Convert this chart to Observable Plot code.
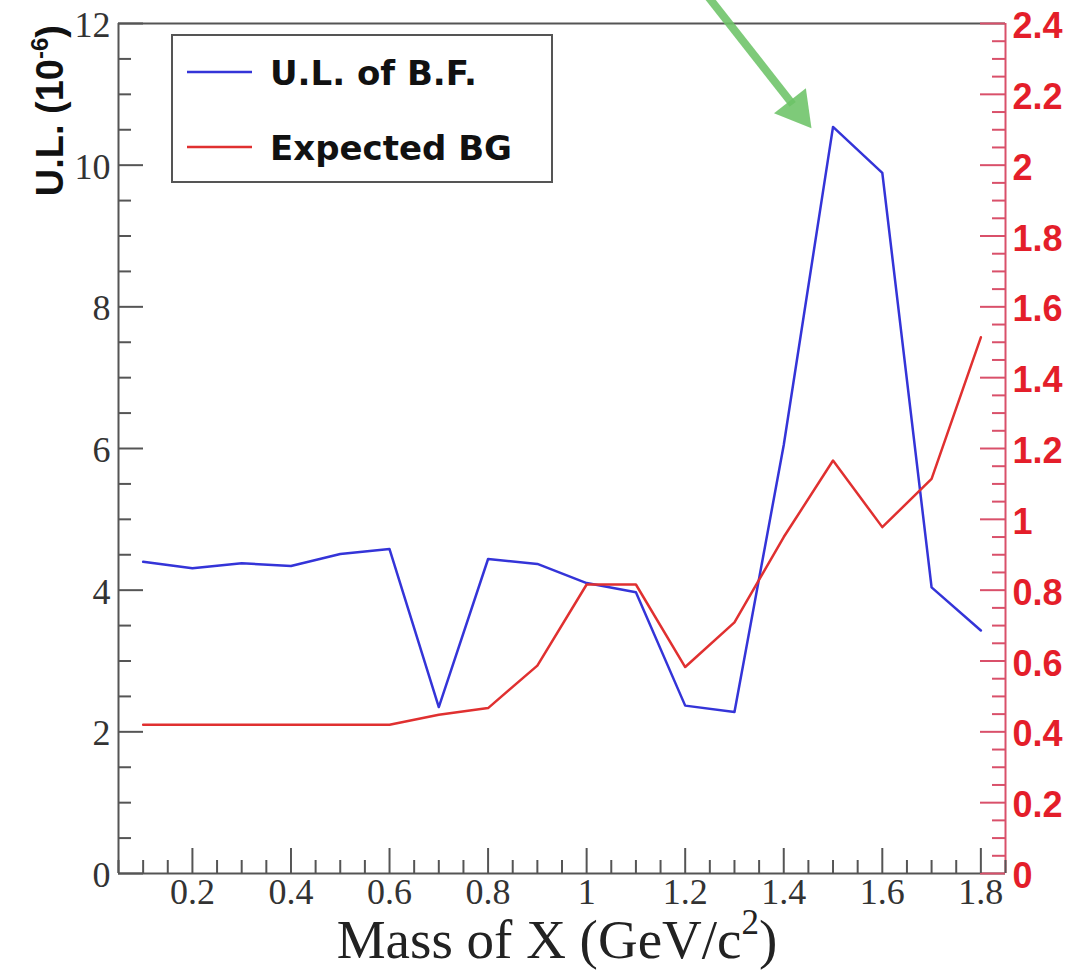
<!DOCTYPE html>
<html><head><meta charset="utf-8">
<script src="https://cdn.jsdelivr.net/npm/d3@7"></script>
<script src="https://cdn.jsdelivr.net/npm/@observablehq/plot@0.6"></script>
<style>html,body{margin:0;padding:0;background:#fff;} #chart{position:relative;width:1088px;height:976px;}</style>
</head><body><div id="chart"></div>
<script>
// ---- data ----
const mass = [0.1, 0.2, 0.3, 0.4, 0.5, 0.6, 0.7, 0.8, 0.9, 1.0, 1.1, 1.2, 1.3, 1.4, 1.5, 1.6, 1.7, 1.8];
const ulBF = [4.40, 4.31, 4.38, 4.34, 4.51, 4.58, 2.35, 4.44, 4.37, 4.10, 3.97, 2.37, 2.28, 6.05, 10.54, 9.89, 4.04, 3.43];
const expectedBG = [0.42, 0.42, 0.42, 0.42, 0.42, 0.42, 0.448, 0.467, 0.587, 0.816, 0.816, 0.583, 0.709, 0.95, 1.166, 0.978, 1.114, 1.514];
const leftTicks = [0, 2, 4, 6, 8, 10, 12];
const rightTicks = [0, 0.2, 0.4, 0.6, 0.8, 1.0, 1.2, 1.4, 1.6, 1.8, 2.0, 2.2, 2.4];
const xTicks = [0.2, 0.4, 0.6, 0.8, 1.0, 1.2, 1.4, 1.6, 1.8];
const seriesNames = ["U.L. of B.F.", "Expected BG"];
const xTitle = ["Mass of X (GeV/c", "2", ")"];
const yTitle = ["U.L. (10", "-6", ")"];
const arrowStart = {x: 1.243, y: 12.41};
const arrowTip = {x: 1.4566, y: 10.518};

// ---- layout / style ----
const W = 1088, H = 976, mL = 118, mR = 83, mT = 23, mB = 103;
const fw = W - mL - mR, fh = H - mT - mB;
const BG_SCALE = 12 / 2.4;
const gray = "#555", blue = "#3434d8", red = "#e03030", pink = "#d9506a", redText = "#e41e2a", green = "#6cc366";
const serif = "Liberation Serif, Times New Roman, serif";
const sans = "Liberation Sans, Arial, sans-serif";

const rows = mass.map((m, i) => ({m, ul: ulBF[i], bg: expectedBG[i]}));
const isMult = (v, s) => Math.abs(v / s - Math.round(v / s)) < 1e-6;
const leftMinor = d3.range(0, 12.001, 0.5).filter(v => !isMult(v, 2));
const rightMinor = d3.range(0, 2.4001, 0.05).map(v => +v.toFixed(2)).filter(v => !isMult(v, 0.2));
const xMinor = d3.range(0.05, 1.8501, 0.05).map(v => +v.toFixed(2)).filter(v => !isMult(v, 0.2));
const fmt = v => String(+v.toFixed(1));

const lerp = (a, b, t) => ({x: a.x + (b.x - a.x) * t, y: a.y + (b.y - a.y) * t});
const shaftEnd = lerp(arrowStart, arrowTip, 0.82);
const headCenter = lerp(arrowStart, arrowTip, 0.862);

const plot = Plot.plot({
  width: W, height: H,
  marginLeft: mL, marginRight: mR, marginTop: mT, marginBottom: mB,
  x: {domain: [0.05, 1.85], axis: null},
  y: {domain: [0, 12], axis: null},
  style: {background: "white", overflow: "visible"},
  marks: [
    Plot.ruleY([0, 12], {stroke: gray, strokeWidth: 2}),
    Plot.ruleX([0.05], {stroke: gray, strokeWidth: 2}),
    Plot.ruleX([1.85], {stroke: pink, strokeWidth: 2}),
    Plot.tickY(leftTicks, {y: d => d, insetRight: fw - 25, stroke: gray, strokeWidth: 2}),
    Plot.tickY(leftMinor, {y: d => d, insetRight: fw - 13, stroke: gray, strokeWidth: 2}),
    Plot.tickY(rightTicks, {y: d => d * BG_SCALE, insetLeft: fw - 25, stroke: pink, strokeWidth: 2}),
    Plot.tickY(rightMinor, {y: d => d * BG_SCALE, insetLeft: fw - 13, stroke: pink, strokeWidth: 2}),
    Plot.tickX(xTicks, {x: d => d, insetTop: fh - 25, stroke: gray, strokeWidth: 2}),
    Plot.tickX(xMinor, {x: d => d, insetTop: fh - 13, stroke: gray, strokeWidth: 2}),
    Plot.line(rows, {x: "m", y: "ul", stroke: blue, strokeWidth: 2.5}),
    Plot.line(rows, {x: "m", y: d => d.bg * BG_SCALE, stroke: red, strokeWidth: 2.5}),
    Plot.text(leftTicks, {y: d => d, text: fmt, frameAnchor: "left", textAnchor: "end", dx: -8, dy: 2, fontFamily: serif, fontSize: 36, fill: "#333"}),
    Plot.text(xTicks, {x: d => d, text: fmt, frameAnchor: "bottom", dy: 30, fontFamily: serif, fontSize: 36, fill: "#333"}),
    Plot.text(rightTicks, {y: d => d * BG_SCALE, text: fmt, frameAnchor: "right", textAnchor: "start", dx: 7, dy: 3, fontFamily: sans, fontWeight: "bold", fontSize: 36, fill: redText}),
    Plot.link([{a: arrowStart, b: shaftEnd}], {x1: d => d.a.x, y1: d => d.a.y, x2: d => d.b.x, y2: d => d.b.y, stroke: green, strokeWidth: 8, strokeOpacity: 0.88}),
    Plot.dot([headCenter], {x: "x", y: "y", symbol: "triangle", r: 15, rotate: 142, fill: green, fillOpacity: 0.88, stroke: "none"})
  ]
});
document.getElementById("chart").appendChild(plot);

const svg = d3.select(plot);
// y title
const yt = svg.append("text")
  .attr("transform", "translate(63,25) rotate(-90)")
  .attr("text-anchor", "end")
  .attr("font-family", sans).attr("font-weight", "bold").attr("font-size", 38).attr("fill", "#111");
yt.append("tspan").text(yTitle[0]);
yt.append("tspan").attr("font-size", 24).attr("dy", -15).text(yTitle[1]);
yt.append("tspan").attr("dy", 15).text(yTitle[2]);

// x title
const xt = svg.append("text")
  .attr("x", 557).attr("y", 958).attr("text-anchor", "middle")
  .attr("font-family", serif).attr("font-size", 55).attr("fill", "#222");
xt.append("tspan").text(xTitle[0]);
xt.append("tspan").attr("font-size", 35).attr("dy", -24).text(xTitle[1]);
xt.append("tspan").attr("dy", 24).text(xTitle[2]);

// legend
const lg = svg.append("g");
lg.append("rect").attr("x", 172).attr("y", 35).attr("width", 380).attr("height", 147)
  .attr("fill", "white").attr("stroke", gray).attr("stroke-width", 2);
const legendColors = [blue, red];
seriesNames.forEach((name, i) => {
  const cy = [72, 147][i];
  lg.append("line").attr("x1", 187).attr("x2", 252).attr("y1", cy).attr("y2", cy)
    .attr("stroke", legendColors[i]).attr("stroke-width", 2.5);
  lg.append("text").attr("x", 270).attr("y", cy + 13).attr("text-anchor", "start")
    .attr("font-family", "DejaVu Sans, sans-serif").attr("font-weight", "bold").attr("font-size", 34)
    .attr("fill", "#111").text(name);
});
</script>
</body></html>
